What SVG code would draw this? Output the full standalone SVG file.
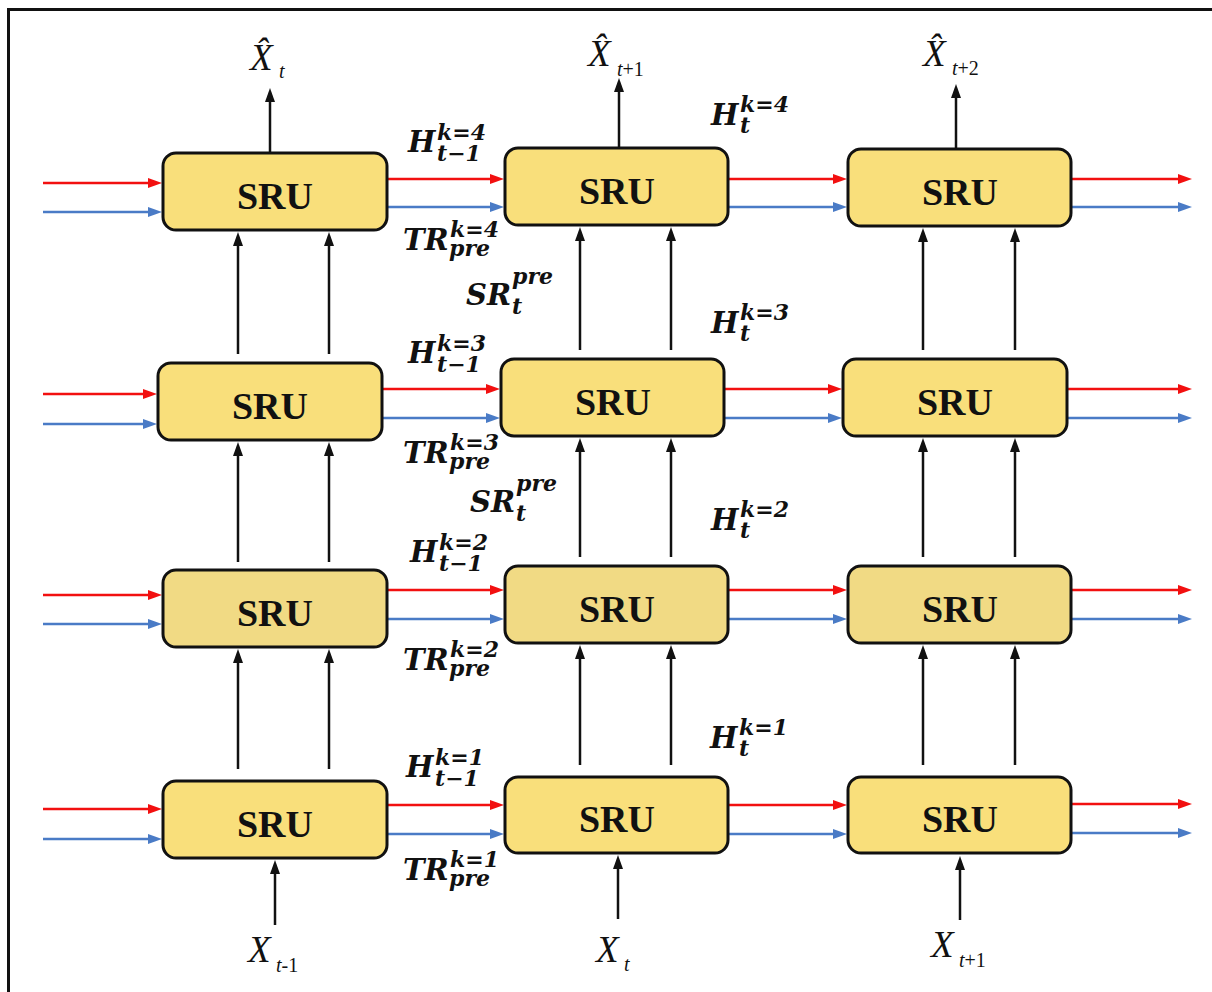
<svg xmlns="http://www.w3.org/2000/svg" width="1212" height="992" viewBox="0 0 1212 992">
<defs>
<style>
.box{fill:#F9DF7B;stroke:#111;stroke-width:3}
.box3{fill:#F1DA84;stroke:#111;stroke-width:3}
.sru{font-family:"Liberation Serif",serif;font-weight:bold;font-size:38px;fill:#111;text-anchor:middle}
.k{stroke:#111;stroke-width:2.5;fill:none}
.r{stroke:#F21010;stroke-width:2.5;fill:none}
.b{stroke:#4A7BC6;stroke-width:2.5;fill:none}
.m{font-family:"DejaVu Serif",serif;font-weight:bold;font-style:italic;fill:#111;font-size:29px}
.ms{font-size:22px}
.x{font-family:"Liberation Serif",serif;font-style:italic;fill:#111;font-size:37px}
.xs{font-size:20px}
.up{font-style:normal}
</style>
<marker id="ak" viewBox="0 0 10 14" refX="5" refY="12" markerWidth="10" markerHeight="14" markerUnits="userSpaceOnUse" orient="0"><path d="M0,14 L5,0 L10,14 z" fill="#111"/></marker>
<marker id="ar" viewBox="0 0 14 10" refX="1" refY="5" markerWidth="14" markerHeight="10" markerUnits="userSpaceOnUse" orient="auto"><path d="M0,0 L14,5 L0,10 z" fill="#F21010"/></marker>
<marker id="ab" viewBox="0 0 14 10" refX="1" refY="5" markerWidth="14" markerHeight="10" markerUnits="userSpaceOnUse" orient="auto"><path d="M0,0 L14,5 L0,10 z" fill="#4A7BC6"/></marker>
</defs>
<rect x="0" y="0" width="1212" height="992" fill="#fff"/>
<g id="frame"><path d="M8.5,992 V9.5 H1212" fill="none" stroke="#111" stroke-width="3"/></g>

<g id="connectors">
<!-- row 1 -->
<line class="r" x1="43" y1="183" x2="149" y2="183" marker-end="url(#ar)"/>
<line class="b" x1="43" y1="212" x2="149" y2="212" marker-end="url(#ab)"/>
<line class="r" x1="387" y1="179" x2="491" y2="179" marker-end="url(#ar)"/>
<line class="b" x1="387" y1="207" x2="491" y2="207" marker-end="url(#ab)"/>
<line class="r" x1="728" y1="179" x2="834" y2="179" marker-end="url(#ar)"/>
<line class="b" x1="728" y1="207" x2="834" y2="207" marker-end="url(#ab)"/>
<line class="r" x1="1072" y1="179" x2="1179" y2="179" marker-end="url(#ar)"/>
<line class="b" x1="1072" y1="207" x2="1179" y2="207" marker-end="url(#ab)"/>
<!-- row 2 -->
<line class="r" x1="43" y1="394" x2="144" y2="394" marker-end="url(#ar)"/>
<line class="b" x1="43" y1="424" x2="144" y2="424" marker-end="url(#ab)"/>
<line class="r" x1="382" y1="389" x2="487" y2="389" marker-end="url(#ar)"/>
<line class="b" x1="382" y1="418" x2="487" y2="418" marker-end="url(#ab)"/>
<line class="r" x1="725" y1="389" x2="829" y2="389" marker-end="url(#ar)"/>
<line class="b" x1="725" y1="418" x2="829" y2="418" marker-end="url(#ab)"/>
<line class="r" x1="1067" y1="389" x2="1179" y2="389" marker-end="url(#ar)"/>
<line class="b" x1="1067" y1="418" x2="1179" y2="418" marker-end="url(#ab)"/>
<!-- row 3 -->
<line class="r" x1="43" y1="595" x2="149" y2="595" marker-end="url(#ar)"/>
<line class="b" x1="43" y1="624" x2="149" y2="624" marker-end="url(#ab)"/>
<line class="r" x1="387" y1="590" x2="491" y2="590" marker-end="url(#ar)"/>
<line class="b" x1="387" y1="619" x2="491" y2="619" marker-end="url(#ab)"/>
<line class="r" x1="729" y1="590" x2="834" y2="590" marker-end="url(#ar)"/>
<line class="b" x1="729" y1="619" x2="834" y2="619" marker-end="url(#ab)"/>
<line class="r" x1="1072" y1="590" x2="1179" y2="590" marker-end="url(#ar)"/>
<line class="b" x1="1072" y1="619" x2="1179" y2="619" marker-end="url(#ab)"/>
<!-- row 4 -->
<line class="r" x1="43" y1="809" x2="149" y2="809" marker-end="url(#ar)"/>
<line class="b" x1="43" y1="839" x2="149" y2="839" marker-end="url(#ab)"/>
<line class="r" x1="387" y1="805" x2="491" y2="805" marker-end="url(#ar)"/>
<line class="b" x1="387" y1="834" x2="491" y2="834" marker-end="url(#ab)"/>
<line class="r" x1="729" y1="805" x2="834" y2="805" marker-end="url(#ar)"/>
<line class="b" x1="729" y1="834" x2="834" y2="834" marker-end="url(#ab)"/>
<line class="r" x1="1072" y1="804" x2="1179" y2="804" marker-end="url(#ar)"/>
<line class="b" x1="1072" y1="833" x2="1179" y2="833" marker-end="url(#ab)"/>
<!-- vertical: row2 -> row1 -->
<line class="k" x1="238" y1="354" x2="238" y2="244" marker-end="url(#ak)"/>
<line class="k" x1="329" y1="354" x2="329" y2="244" marker-end="url(#ak)"/>
<line class="k" x1="580" y1="350" x2="580" y2="239" marker-end="url(#ak)"/>
<line class="k" x1="671" y1="350" x2="671" y2="239" marker-end="url(#ak)"/>
<line class="k" x1="923" y1="350" x2="923" y2="240" marker-end="url(#ak)"/>
<line class="k" x1="1015" y1="350" x2="1015" y2="240" marker-end="url(#ak)"/>
<!-- row3 -> row2 -->
<line class="k" x1="238" y1="562" x2="238" y2="454" marker-end="url(#ak)"/>
<line class="k" x1="329" y1="562" x2="329" y2="454" marker-end="url(#ak)"/>
<line class="k" x1="580" y1="557" x2="580" y2="450" marker-end="url(#ak)"/>
<line class="k" x1="671" y1="557" x2="671" y2="450" marker-end="url(#ak)"/>
<line class="k" x1="923" y1="557" x2="923" y2="450" marker-end="url(#ak)"/>
<line class="k" x1="1015" y1="557" x2="1015" y2="450" marker-end="url(#ak)"/>
<!-- row4 -> row3 -->
<line class="k" x1="238" y1="769" x2="238" y2="661" marker-end="url(#ak)"/>
<line class="k" x1="329" y1="769" x2="329" y2="661" marker-end="url(#ak)"/>
<line class="k" x1="580" y1="765" x2="580" y2="657" marker-end="url(#ak)"/>
<line class="k" x1="671" y1="765" x2="671" y2="657" marker-end="url(#ak)"/>
<line class="k" x1="923" y1="765" x2="923" y2="657" marker-end="url(#ak)"/>
<line class="k" x1="1015" y1="765" x2="1015" y2="657" marker-end="url(#ak)"/>
<!-- outputs -->
<line class="k" x1="270" y1="153" x2="270" y2="100" marker-end="url(#ak)"/>
<line class="k" x1="619" y1="148" x2="619" y2="90" marker-end="url(#ak)"/>
<line class="k" x1="956" y1="149" x2="956" y2="96" marker-end="url(#ak)"/>
<!-- inputs -->
<line class="k" x1="275" y1="925" x2="275" y2="872" marker-end="url(#ak)"/>
<line class="k" x1="618" y1="919" x2="618" y2="867" marker-end="url(#ak)"/>
<line class="k" x1="960" y1="920" x2="960" y2="868" marker-end="url(#ak)"/>
</g>

<g id="sru-r1c1"><rect class="box" x="163" y="153" width="224" height="77" rx="13"/><text class="sru" x="275" y="209">SRU</text></g>
<g id="sru-r1c2"><rect class="box" x="505" y="148" width="223" height="77" rx="13"/><text class="sru" x="617" y="204">SRU</text></g>
<g id="sru-r1c3"><rect class="box" x="848" y="149" width="223" height="77" rx="13"/><text class="sru" x="960" y="205">SRU</text></g>
<g id="sru-r2c1"><rect class="box" x="158" y="363" width="224" height="77" rx="13"/><text class="sru" x="270" y="419">SRU</text></g>
<g id="sru-r2c2"><rect class="box" x="501" y="359" width="223" height="77" rx="13"/><text class="sru" x="613" y="415">SRU</text></g>
<g id="sru-r2c3"><rect class="box" x="843" y="359" width="224" height="77" rx="13"/><text class="sru" x="955" y="415">SRU</text></g>
<g id="sru-r3c1"><rect class="box3" x="163" y="570" width="224" height="77" rx="13"/><text class="sru" x="275" y="626">SRU</text></g>
<g id="sru-r3c2"><rect class="box3" x="505" y="566" width="223" height="77" rx="13"/><text class="sru" x="617" y="622">SRU</text></g>
<g id="sru-r3c3"><rect class="box3" x="848" y="566" width="223" height="77" rx="13"/><text class="sru" x="960" y="622">SRU</text></g>
<g id="sru-r4c1"><rect class="box" x="163" y="781" width="224" height="77" rx="13"/><text class="sru" x="275" y="837">SRU</text></g>
<g id="sru-r4c2"><rect class="box" x="505" y="777" width="223" height="76" rx="13"/><text class="sru" x="617" y="832">SRU</text></g>
<g id="sru-r4c3"><rect class="box" x="848" y="777" width="223" height="76" rx="13"/><text class="sru" x="960" y="832">SRU</text></g>

<g id="labels-io">
<text class="x" x="250" y="70">X̂<tspan class="xs" x="279" y="78">t</tspan></text>
<text class="x" x="588" y="66">X̂<tspan class="xs" x="617" y="76">t<tspan class="up">+1</tspan></tspan></text>
<text class="x" x="923" y="66">X̂<tspan class="xs" x="952" y="75">t<tspan class="up">+2</tspan></tspan></text>
<text class="x" x="248" y="962">X<tspan class="xs" x="276" y="972">t<tspan class="up">-1</tspan></tspan></text>
<text class="x" x="596" y="962">X<tspan class="xs" x="624" y="971">t</tspan></text>
<text class="x" x="931" y="957">X<tspan class="xs" x="959" y="967">t<tspan class="up">+1</tspan></tspan></text>
</g>

<g id="labels-math" class="m">
<!-- H_{t-1} -->
<text x="408" y="152">H<tspan class="ms" x="437" y="140">k=4</tspan><tspan class="ms" x="437" y="161">t−1</tspan></text>
<text x="408" y="363">H<tspan class="ms" x="437" y="351">k=3</tspan><tspan class="ms" x="437" y="372">t−1</tspan></text>
<text x="410" y="562">H<tspan class="ms" x="439" y="550">k=2</tspan><tspan class="ms" x="439" y="571">t−1</tspan></text>
<text x="406" y="777">H<tspan class="ms" x="435" y="765">k=1</tspan><tspan class="ms" x="435" y="786">t−1</tspan></text>
<!-- TR -->
<text x="403" y="250">TR<tspan class="ms" x="450" y="237">k=4</tspan><tspan class="ms" x="449" y="256">pre</tspan></text>
<text x="403" y="463">TR<tspan class="ms" x="450" y="450">k=3</tspan><tspan class="ms" x="449" y="469">pre</tspan></text>
<text x="403" y="670">TR<tspan class="ms" x="450" y="657">k=2</tspan><tspan class="ms" x="449" y="676">pre</tspan></text>
<text x="403" y="880">TR<tspan class="ms" x="450" y="867">k=1</tspan><tspan class="ms" x="449" y="886">pre</tspan></text>
<!-- SR -->
<text x="466" y="305">SR<tspan class="ms" x="512" y="284">pre</tspan><tspan class="ms" x="512" y="314">t</tspan></text>
<text x="470" y="512">SR<tspan class="ms" x="516" y="491">pre</tspan><tspan class="ms" x="516" y="521">t</tspan></text>
<!-- H_t -->
<text x="711" y="125">H<tspan class="ms" x="740" y="112">k=4</tspan><tspan class="ms" x="740" y="133">t</tspan></text>
<text x="711" y="333">H<tspan class="ms" x="740" y="320">k=3</tspan><tspan class="ms" x="740" y="341">t</tspan></text>
<text x="711" y="530">H<tspan class="ms" x="740" y="517">k=2</tspan><tspan class="ms" x="740" y="538">t</tspan></text>
<text x="710" y="748">H<tspan class="ms" x="739" y="735">k=1</tspan><tspan class="ms" x="739" y="756">t</tspan></text>
</g>
</svg>
